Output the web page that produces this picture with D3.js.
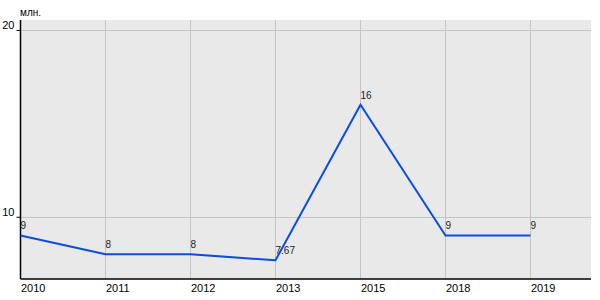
<!DOCTYPE html>
<html>
<head>
<meta charset="utf-8">
<script src="https://cdn.jsdelivr.net/npm/d3@7/dist/d3.min.js"></script>
<style>
  body { margin: 0; background: #fff; }
  svg { display: block; font-family: "Liberation Sans", Arial, sans-serif; }
</style>
</head>
<body>
<svg id="chart"></svg>
<script>
// Datos
const years = ["2010", "2011", "2012", "2013", "2015", "2018", "2019"];
const values = [9, 8, 8, 7.67, 16, 9, 9];
const valueLabels = ["9", "8", "8", "7.67", "16", "9", "9"];
const yTicks = [10, 20];
const unitLabel = "млн.";

const width = 600;
const height = 300;
const plotLeft = 20.5, plotRight = 591, plotTop = 20, plotBottom = 279;

const svg = d3.select("#chart")
    .attr("width", width)
    .attr("height", height);

// Escalas
const x = d3.scalePoint()
    .domain(years)
    .range([plotLeft, 530.5]);

const y = d3.scaleLinear()
    .domain([6.67, 20.53])
    .range([plotBottom, plotTop]);

// Fondo
svg.append("rect")
    .attr("x", plotLeft)
    .attr("y", plotTop)
    .attr("width", plotRight - plotLeft)
    .attr("height", plotBottom - plotTop)
    .attr("fill", "#e9e9e9");

// Rejilla
svg.append("g")
    .selectAll("line")
    .data(years)
    .join("line")
    .attr("x1", d => x(d)).attr("x2", d => x(d))
    .attr("y1", plotTop).attr("y2", plotBottom)
    .attr("stroke", "#c4c4c4");

svg.append("g")
    .selectAll("line")
    .data(yTicks)
    .join("line")
    .attr("x1", plotLeft).attr("x2", plotRight)
    .attr("y1", d => Math.round(y(d)) + 0.5).attr("y2", d => Math.round(y(d)) + 0.5)
    .attr("stroke", "#c4c4c4");

// Ejes
const yAxis = d3.axisLeft(y).tickValues(yTicks).tickSize(4).tickPadding(2);
svg.append("g")
    .attr("transform", `translate(${plotLeft},0)`)
    .call(yAxis)
    .call(g => g.select(".domain").attr("d", `M0,${plotTop}V${plotBottom}`).attr("stroke", "#000").attr("stroke-width", 1.5))
    .call(g => g.selectAll("text").attr("font-size", 11).attr("fill", "#000").attr("dy", "-0.1em"));

const xAxis = d3.axisBottom(x).tickSize(0).tickPadding(5);
svg.append("g")
    .attr("transform", `translate(0,${plotBottom})`)
    .call(xAxis)
    .call(g => g.select(".domain").attr("d", `M${plotLeft},0H${plotRight}`).attr("stroke", "#000").attr("stroke-width", 1.5))
    .call(g => g.selectAll("text").attr("font-size", 11).attr("fill", "#000").attr("text-anchor", "start"));

svg.append("text")
    .attr("x", 20)
    .attr("y", 16)
    .attr("font-size", 10)
    .text(unitLabel);

// Línea
const line = d3.line()
    .x((d, i) => x(years[i]))
    .y(d => y(d));

svg.append("path")
    .datum(values)
    .attr("d", line)
    .attr("fill", "none")
    .attr("stroke", "#0a4ee0")
    .attr("stroke-width", 2);

// Etiquetas
svg.append("g")
    .selectAll("text")
    .data(values)
    .join("text")
    .attr("x", (d, i) => x(years[i]))
    .attr("y", d => y(d) - 6)
    .attr("font-size", 10)
    .attr("fill", "#222")
    .text((d, i) => valueLabels[i]);
</script>
</body>
</html>
